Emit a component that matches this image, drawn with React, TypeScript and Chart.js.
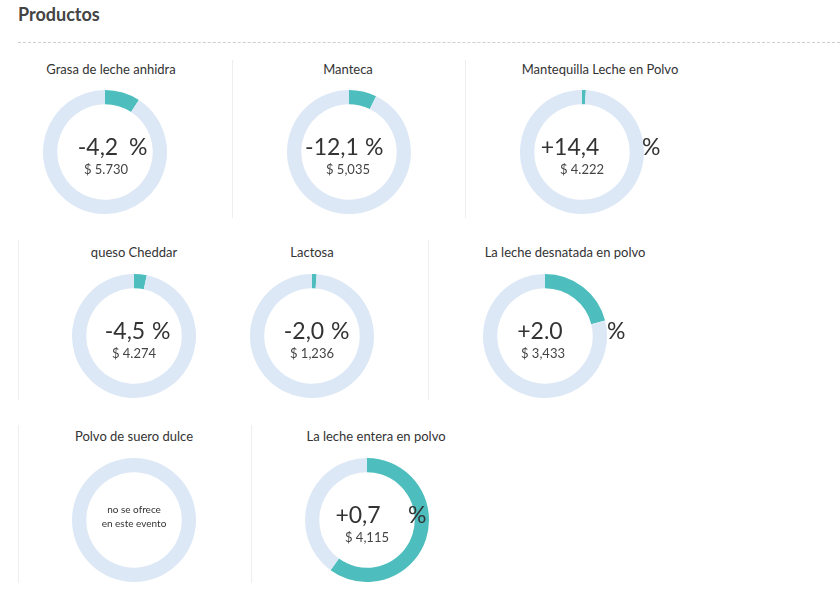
import React, { useEffect, useRef } from "react";
import { Chart, registerables } from "chart.js";

Chart.register(...registerables);

// ---- data ----
const sectionTitle = "Productos";
const products = [
  "Grasa de leche anhidra",
  "Manteca",
  "Mantequilla Leche en Polvo",
  "queso Cheddar",
  "Lactosa",
  "La leche desnatada en polvo",
  "Polvo de suero dulce",
  "La leche entera en polvo",
];
const changeLabels = ["-4,2", "-12,1", "+14,4", "-4,5", "-2,0", "+2.0", "", "+0,7"];
const prices = ["$ 5.730", "$ 5,035", "$ 4.222", "$ 4.274", "$ 1,236", "$ 3,433", "", "$ 4,115"];
const shares = [0.092, 0.072, 0.01, 0.033, 0.012, 0.21, 0, 0.6];
const offered = [true, true, true, true, true, true, false, true];
const notOfferedText = ["no se ofrece", "en este evento"];

// ---- layout (positions only) ----
const cards = [
  { cx: 105, cy: 152, tx: 111, ty: 69, nx: 98, px: 129, dx: 106 },
  { cx: 349, cy: 152, tx: 348, ty: 69, nx: 332, px: 365, dx: 348 },
  { cx: 582, cy: 152, tx: 600, ty: 69, nx: 570, px: 642, dx: 582 },
  { cx: 134, cy: 336, tx: 134, ty: 252, nx: 125, px: 152, dx: 134 },
  { cx: 312, cy: 336, tx: 312, ty: 252, nx: 304, px: 331, dx: 312 },
  { cx: 545, cy: 336, tx: 565, ty: 252, nx: 540, px: 607, dx: 543 },
  { cx: 134, cy: 520, tx: 134, ty: 436, nx: 134, px: 0, dx: 134 },
  { cx: 367, cy: 520, tx: 376, ty: 436, nx: 358, px: 408, dx: 367 },
];
const separators = [
  { x: 232, y1: 60, y2: 218 },
  { x: 465, y1: 60, y2: 218 },
  { x: 18, y1: 240, y2: 400 },
  { x: 428, y1: 240, y2: 400 },
  { x: 18, y1: 425, y2: 583 },
  { x: 251, y1: 425, y2: 583 },
];

const TEAL = "#4dbdbd";
const LIGHT = "#dde8f6";
const FONT = "Lato, 'Open Sans', sans-serif";
const SIZE = 124;

function Donut({ share }: { share: number }) {
  const ref = useRef<HTMLCanvasElement | null>(null);
  useEffect(() => {
    if (!ref.current) return;
    const chart = new Chart(ref.current, {
      type: "doughnut",
      data: {
        labels: ["share", "rest"],
        datasets: [
          {
            data: [share, 1 - share],
            backgroundColor: [TEAL, LIGHT],
            borderWidth: 0,
          },
        ],
      },
      options: {
        responsive: false,
        animation: false,
        cutout: "77%",
        events: [],
        layout: { padding: 0 },
        plugins: { legend: { display: false }, tooltip: { enabled: false } },
      },
    });
    return () => chart.destroy();
  }, [share]);
  return <canvas ref={ref} width={SIZE} height={SIZE} style={{ width: SIZE, height: SIZE }} />;
}

export default function App() {
  return (
    <div
      style={{
        position: "absolute",
        left: 0,
        top: 0,
        width: 840,
        height: 610,
        background: "#fff",
        fontFamily: FONT,
        color: "#333",
        overflow: "hidden",
      }}
    >
      <div
        style={{
          position: "absolute",
          left: 18,
          top: 3,
          fontSize: 18,
          fontWeight: 700,
          color: "#444",
          lineHeight: "22px",
        }}
      >
        {sectionTitle}
      </div>
      <div
        style={{
          position: "absolute",
          left: 18,
          top: 42,
          width: 822,
          height: 0,
          borderTop: "1px dashed #cfcfcf",
        }}
      />
      {separators.map((s, i) => (
        <div
          key={"s" + i}
          style={{
            position: "absolute",
            left: s.x,
            top: s.y1,
            width: 1,
            height: s.y2 - s.y1,
            background: "#eeeeee",
          }}
        />
      ))}
      {products.map((name, i) => {
        const c = cards[i];
        return (
          <React.Fragment key={i}>
            <div
              style={{
                position: "absolute",
                left: c.tx - 120,
                width: 240,
                top: c.ty - 9,
                textAlign: "center",
                fontSize: 13,
                lineHeight: "18px",
                color: "#333",
                whiteSpace: "nowrap",
              }}
            >
              {name}
            </div>
            <div
              style={{
                position: "absolute",
                left: c.cx - SIZE / 2,
                top: c.cy - SIZE / 2,
                width: SIZE,
                height: SIZE,
              }}
            >
              <Donut share={shares[i]} />
            </div>
            {offered[i] ? (
              <>
                <div
                  style={{
                    position: "absolute",
                    left: c.nx - 60,
                    width: 120,
                    top: c.cy - 6 - 15,
                    textAlign: "center",
                    fontSize: 23,
                    lineHeight: "30px",
                    color: "#333",
                    whiteSpace: "nowrap",
                  }}
                >
                  {changeLabels[i]}
                </div>
                <div
                  style={{
                    position: "absolute",
                    left: c.px,
                    top: c.cy - 6 - 15,
                    fontSize: 23,
                    lineHeight: "30px",
                    color: "#333",
                  }}
                >
                  %
                </div>
                <div
                  style={{
                    position: "absolute",
                    left: c.dx - 60,
                    width: 120,
                    top: c.cy + 17 - 9,
                    textAlign: "center",
                    fontSize: 13,
                    lineHeight: "18px",
                    color: "#444",
                    whiteSpace: "nowrap",
                  }}
                >
                  {prices[i]}
                </div>
              </>
            ) : (
              <div
                style={{
                  position: "absolute",
                  left: c.nx - 60,
                  width: 120,
                  top: c.cy - 18,
                  textAlign: "center",
                  fontSize: 10,
                  lineHeight: "14px",
                  color: "#333",
                }}
              >
                {notOfferedText[0]}
                <br />
                {notOfferedText[1]}
              </div>
            )}
          </React.Fragment>
        );
      })}
    </div>
  );
}
